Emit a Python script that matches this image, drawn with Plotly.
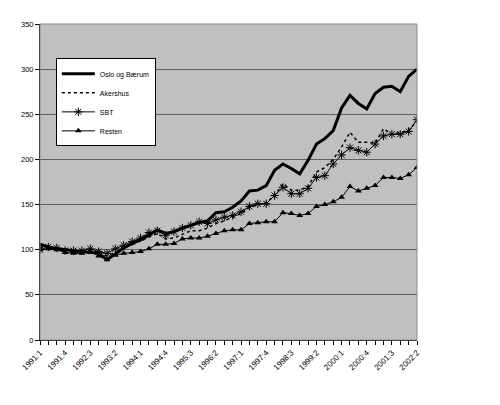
import plotly.graph_objects as go

quarters = [
    "1991:1", "1991:2", "1991:3", "1991:4", "1992:1", "1992:2", "1992:3", "1992:4",
    "1993:1", "1993:2", "1993:3", "1993:4", "1994:1", "1994:2", "1994:3", "1994:4",
    "1995:1", "1995:2", "1995:3", "1995:4", "1996:1", "1996:2", "1996:3", "1996:4",
    "1997:1", "1997:2", "1997:3", "1997:4", "1998:1", "1998:2", "1998:3", "1998:4",
    "1999:1", "1999:2", "1999:3", "1999:4", "2000:1", "2000:2", "2000:3", "2000:4",
    "2001:1", "2001:2", "2001:3", "2001:4", "2002:1", "2002:2",
]

oslo = [106, 103, 101, 100, 99, 98, 97, 96, 89, 96, 102, 107, 111, 116, 122, 118,
        120, 124, 127, 130, 132, 141, 142, 147, 154, 165, 166, 171, 188, 195, 190, 184,
        199, 217, 223, 232, 257, 271, 262, 256, 273, 280, 281, 275, 292, 300]
akershus = [103, 101, 101, 99, 97, 96, 96, 97, 93, 97, 102, 106, 110, 114, 118, 112,
            113, 117, 121, 121, 124, 129, 132, 136, 140, 147, 150, 152, 160, 173, 166, 166,
            170, 186, 191, 200, 214, 230, 219, 219, 218, 234, 228, 230, 232, 243]
sbt = [100, 103, 102, 99, 99, 99, 101, 98, 96, 101, 105, 109, 113, 119, 121, 116,
       120, 124, 127, 131, 129, 133, 136, 138, 142, 148, 151, 151, 160, 169, 162, 162,
       168, 180, 182, 195, 205, 213, 210, 208, 217, 226, 228, 228, 231, 244]
resten = [100, 101, 100, 97, 96, 96, 98, 93, 89, 94, 96, 97, 98, 101, 106, 106,
          107, 112, 113, 113, 115, 118, 121, 122, 122, 129, 130, 131, 131, 141, 140, 138,
          140, 148, 150, 153, 158, 170, 165, 168, 171, 180, 180, 179, 183, 191]

# only every third quarter gets a label, but every quarter gets a tick
tick_text = [q if i % 3 == 0 else "" for i, q in enumerate(quarters)]
font = "Liberation Sans, Arial, sans-serif"

fig = go.Figure()
fig.add_trace(go.Scatter(x=quarters, y=oslo, mode="lines", name="Oslo og Bærum",
                         line=dict(color="black", width=3)))
fig.add_trace(go.Scatter(x=quarters, y=akershus, mode="lines", name="Akershus",
                         line=dict(color="black", width=1.5, dash="3px,3px")))
fig.add_trace(go.Scatter(x=quarters, y=sbt, mode="lines+markers", name="SBT",
                         line=dict(color="black", width=1),
                         marker=dict(symbol="asterisk-open", size=7, color="black",
                                     line=dict(color="black", width=1))))
fig.add_trace(go.Scatter(x=quarters, y=resten, mode="lines+markers", name="Resten",
                         line=dict(color="black", width=1),
                         marker=dict(symbol="triangle-up", size=6, color="black")))

fig.add_shape(type="rect", xref="paper", yref="paper", x0=0, x1=1, y0=0, y1=1,
              line=dict(color="#8a8a8a", width=1))

# page body adds 8px, so the margins are shifted to compensate
fig.update_layout(
    width=500, height=405,
    margin=dict(l=32, r=91, t=12, b=73),
    paper_bgcolor="white", plot_bgcolor="#c0c0c0",
    font=dict(family=font, size=7.5, color="black"),
    showlegend=True,
    legend=dict(x=0.042, y=0.752, xanchor="left", yanchor="middle",
                bgcolor="white", bordercolor="black", borderwidth=1,
                font=dict(size=7), itemwidth=33, tracegroupgap=0),
    xaxis=dict(type="category", range=[0, len(quarters) - 1],
               tickmode="array", tickvals=quarters, ticktext=tick_text,
               tickangle=-45, ticks="outside", ticklen=4, tickcolor="black",
               tickfont=dict(size=8),
               showline=True, linecolor="black", linewidth=1,
               showgrid=False, zeroline=False),
    yaxis=dict(range=[0, 350], dtick=50, ticks="outside", ticklen=4, tickcolor="black",
               showline=True, linecolor="black", linewidth=1,
               showgrid=True, gridcolor="#606060", gridwidth=1, zeroline=False),
)

fig.write_html("out.html")
